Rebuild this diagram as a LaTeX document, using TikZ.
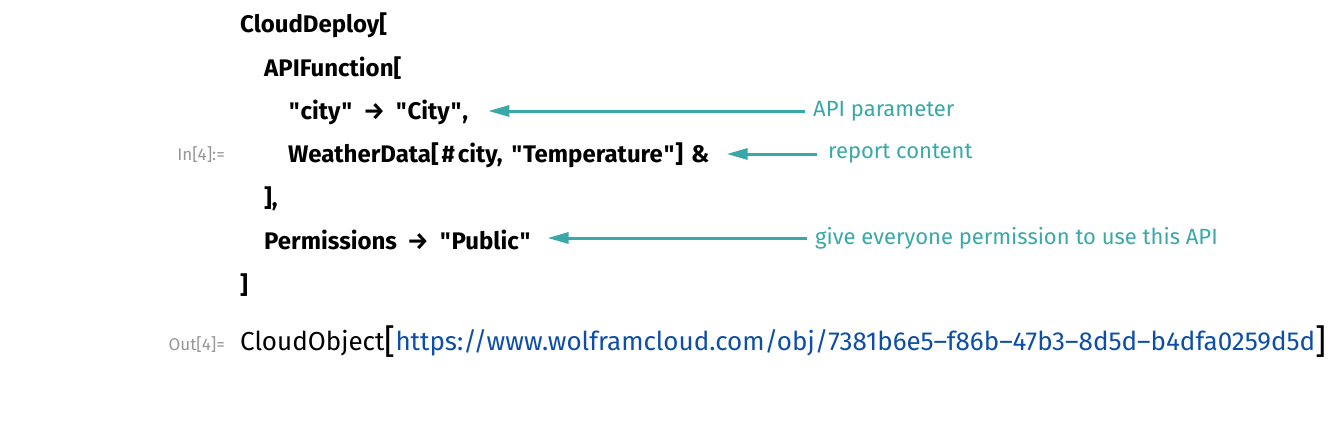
\documentclass[tikz,border=0pt]{standalone}
\usepackage{fontspec}
\setmainfont{Fira Sans}[Ligatures=TeXOff]
\usetikzlibrary{positioning,arrows.meta}
\definecolor{noteteal}{RGB}{58,168,168}
\definecolor{urlblue}{RGB}{12,78,168}
\definecolor{promptgray}{RGB}{150,150,150}
\newcommand{\codefont}{\fontsize{24}{24}\selectfont\bfseries\spaceskip=8pt\relax}
\tikzset{
  code/.style={anchor=base west, inner sep=0pt, font=\codefont},
  outcode/.style={anchor=base west, inner sep=0pt, font=\fontsize{26}{26}\selectfont},
  note/.style={inner sep=0pt, text=noteteal, font=\fontsize{22}{22}\selectfont},
  prompt/.style={anchor=base east, inner sep=0pt, text=promptgray, font=\fontsize{17}{17}\selectfont},
  notearrow/.style={draw=noteteal, line width=3pt, -{Triangle[length=21pt,width=11pt]}},
}
\newcommand{\qt}{\kern1pt"\kern1pt}
\newcommand{\slot}{\makebox[19pt]{\#}}
\newcommand{\rul}{\makebox[26pt]{→}}
\newcommand{\bigbrack}[1]{\raisebox{-3pt}{\fontsize{34}{34}\fontseries{l}\selectfont #1}}
\begin{document}
\begin{tikzpicture}[x=1pt,y=-1pt]
\useasboundingbox (0,0) rectangle (1340,434);
% input cell
\node[prompt] (inlbl) at (225,160) {In[4]:=};
\node[code] (deploy) at (240,32) {CloudDeploy[};
\node[code] (apifun) at (264,76) {APIFunction[};
\node[code] (city) at (288,119) {\qt city\qt{} \rul{} \qt City\qt,};
\node[code] (weather) at (288,162) {WeatherData[\slot city, \qt Temperature\qt] \&};
\node[code] (apiclose) at (264,206) {],};
\node[code] (perm) at (264,249) {Permissions \rul{} \qt Public\qt};
\node[code] (deployclose) at (240,293) {]};
% notes
\node[note, anchor=west] (apiparam) at (813,111) {API parameter};
\node[note, anchor=west] (report) at (828,154) {report content};
\node[note, anchor=west] (everyone) at (815,238) {give everyone permission to use this API};
\draw[notearrow, shorten <=8pt, shorten >=20pt] (apiparam) -- (apiparam -| city.east);
\draw[notearrow, shorten <=11pt, shorten >=17pt] (report) -- (report -| weather.east);
\draw[notearrow, shorten <=8pt, shorten >=16pt] (everyone) -- (everyone -| perm.east);
% output cell
\node[prompt] (outlbl) at (225,350) {Out[4]=};
\node[outcode] (cloudobj) at (240,350) {CloudObject\bigbrack{[}\textcolor{urlblue}{https://www.wolframcloud.com/obj/7381b6e5–f86b–47b3–8d5d–b4dfa0259d5d}\bigbrack{]}};
\end{tikzpicture}
\end{document}
